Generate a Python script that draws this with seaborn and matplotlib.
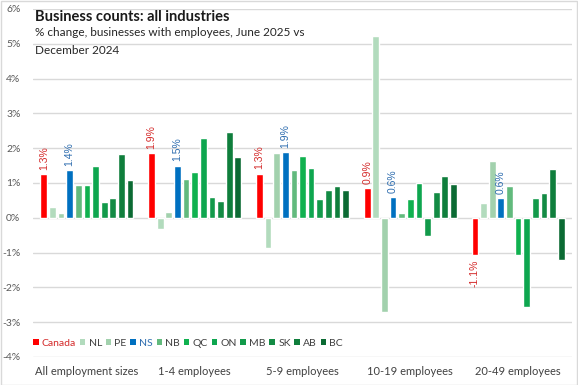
import pandas as pd
import matplotlib
matplotlib.use('Agg')
import matplotlib.pyplot as plt
from matplotlib.patches import Patch, Rectangle
import seaborn as sns

sizes = ['All employment sizes', '1-4 employees', '5-9 employees',
         '10-19 employees', '20-49 employees']
regions = ['Canada', 'NL', 'PE', 'NS', 'NB', 'QC', 'ON', 'MB', 'SK', 'AB', 'BC']

# % change per region, one value per employment size
canada = [1.26, 1.86, 1.27, 0.86, -1.08]
nl = [0.30, -0.31, -0.87, 5.23, 0.43]
pe = [0.15, 0.18, 1.87, -2.72, 1.64]
ns = [1.36, 1.50, 1.90, 0.60, 0.56]
nb = [0.95, 1.12, 1.38, 0.14, 0.92]
qc = [0.95, 1.32, 1.79, 0.55, -1.08]
on = [1.49, 2.29, 1.44, 1.00, -2.57]
mb = [0.46, 0.61, 0.55, -0.51, 0.57]
sk = [0.58, 0.47, 0.80, 0.75, 0.72]
ab = [1.84, 2.47, 0.92, 1.21, 1.41]
bc = [1.09, 1.75, 0.80, 0.98, -1.20]

colors = ['#FF0000', '#B2DBBD', '#A2D1AD', '#0070C0', '#62BA7D', '#10B14F',
          '#0EA64F', '#129A4A', '#138B44', '#0F7E3C', '#0B6A33']

series = [canada, nl, pe, ns, nb, qc, on, mb, sk, ab, bc]
rows = []
for reg, vals in zip(regions, series):
    for s, v in zip(sizes, vals):
        rows.append({'size': s, 'region': reg, 'value': v})
df = pd.DataFrame(rows)

sns.set_style('white')
plt.rcParams['font.family'] = ['Lato', 'DejaVu Sans']

fig = plt.figure(figsize=(5.78, 3.85), dpi=100)
ax = fig.add_axes([33 / 578, 28 / 385, 539 / 578, 348 / 385])

sns.barplot(data=df, x='size', y='value', hue='region', order=sizes,
            hue_order=regions, palette=colors, width=0.88, gap=0.22,
            saturation=1, legend=False, ax=ax)

ax.set_ylim(-4, 6)
ax.set_xlim(-0.5, 4.5)
ax.set_yticks(range(-4, 7))
ax.set_yticklabels([f'{t}%' for t in range(-4, 7)])
ax.yaxis.grid(True, color='#D9D9D9', linewidth=1)
ax.set_axisbelow(True)
for sp in ax.spines.values():
    sp.set_visible(False)
ax.set_xlabel('')
ax.set_ylabel('')
ax.tick_params(axis='y', length=0, pad=9, labelsize=7.5, labelcolor='#595959')
ax.tick_params(axis='x', length=0, pad=0, labelsize=8, labelcolor='#404040')
for lab in ax.get_xticklabels():
    lab.set_y(-0.025)

# data labels for Canada and NS
lab_font = ['Liberation Sans', 'DejaVu Sans']
ax.bar_label(ax.containers[0], labels=[f'{v:.1f}%' for v in canada],
             rotation=90, padding=3, fontsize=7.5, color='#D42A2A', family=lab_font)
ax.bar_label(ax.containers[3], labels=[f'{v:.1f}%' for v in ns],
             rotation=90, padding=3, fontsize=7.5, color='#2E6DAF', family=lab_font)

handles = [Patch(facecolor=c, edgecolor='none') for c in colors]
leg = ax.legend(handles, regions, loc='center left', bbox_to_anchor=(0.0, 0.04),
                ncol=11, frameon=False, fontsize=7.5, handlelength=0.55,
                handleheight=0.55, handletextpad=0.3, columnspacing=0.35,
                borderpad=0, borderaxespad=0)
for t, r in zip(leg.get_texts(), regions):
    t.set_color('#D42A2A' if r == 'Canada' else '#2E6DAF' if r == 'NS' else '#404040')

fig.text(35 / 578, 1 - 17 / 385, 'Business counts: all industries', fontsize=10.5,
         fontweight='bold', va='center', ha='left', color='#1A1A1A')
fig.text(35 / 578, 1 - 33 / 385, '% change, businesses with employees, June 2025 vs',
         fontsize=8.5, va='center', ha='left', color='#262626')
fig.text(35 / 578, 1 - 50 / 385, 'December 2024',
         fontsize=8.5, va='center', ha='left', color='#262626')

fig.patches.append(Rectangle((0.5 / 578, 0.5 / 385), 576.5 / 578, 383.5 / 385,
                             transform=fig.transFigure, fill=False,
                             edgecolor='#D9D9D9', linewidth=1))

fig.savefig('out.png', dpi=100, facecolor='white')
